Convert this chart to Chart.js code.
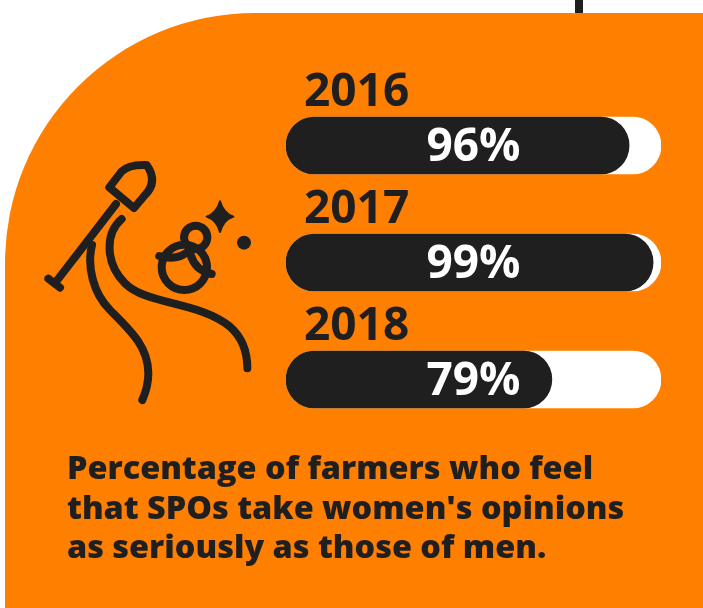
<!DOCTYPE html>
<html>
<head>
<meta charset="utf-8">
<script src="https://cdn.jsdelivr.net/npm/chart.js@4/dist/chart.umd.min.js"></script>
<style>
  html, body { margin: 0; padding: 0; background: #fff; overflow: hidden; }
  #page { position: relative; width: 703px; height: 608px; overflow: hidden; }
  #stem { position: absolute; left: 575px; top: 0; width: 8px; height: 14px; background: #1f1f1f; }
  #panel { position: absolute; left: 5px; top: 13px; width: 760px; height: 660px; background: #ff7f00; border-top-left-radius: 250px; }
  #chart-box { position: absolute; left: 0; top: 0; width: 703px; height: 608px; }
  #icon { position: absolute; left: 30px; top: 150px; }
  #caption {
    position: absolute; left: 67px; top: 447px; margin: 0;
    font: 800 32.4px/39.5px "Open Sans", sans-serif; color: #1f1f1f; white-space: nowrap;
  }
</style>
</head>
<body>
<div id="page">
  <div id="stem"></div>
  <div id="panel"></div>
  <svg id="icon" width="240" height="260" viewBox="0 0 720 780" fill="none" stroke="#1f1f1f" stroke-width="24" stroke-linecap="round" stroke-linejoin="round">
    <path d="M55,386 L90,413"/>
    <path d="M76,398 L258,162"/>
    <path d="M238,112 L275,64 Q298,42 350,45 Q385,95 345,135 L312,174 Z"/>
    <path d="M186,285 C170,350 190,430 240,480 C300,540 355,590 355,670 Q355,710 337,750"/>
    <path d="M275,207 C225,250 225,340 285,400 C350,465 510,455 600,530 C640,565 652,610 652,655"/>
    <circle cx="497" cy="262" r="35"/>
    <circle cx="463" cy="352" r="68"/>
    <path d="M388,318 Q445,335 482,298"/>
    <path d="M480,305 Q490,360 545,372"/>
    <path d="M570,154 Q580,190 610,200 Q580,210 570,246 Q560,210 530,200 Q560,190 570,154 Z" fill="#1f1f1f" stroke-width="6"/>
    <circle cx="642" cy="278" r="21" fill="#1f1f1f" stroke="none"/>
  </svg>
  <div id="chart-box"><canvas id="farmers-chart"></canvas></div>
  <p id="caption">Percentage of farmers who feel<br>that SPOs take women's opinions<br>as seriously as those of men.</p>
</div>
<script>
// Survey years and the percentages printed on the bars.
const years = ['2016', '2017', '2018'];
const printedPercent = [96, 99, 79];
// The dark fills in the source are not drawn to the printed numbers, so the
// lengths are read off the picture as a share of the white track.
const fillLength = [91.5, 97.9, 70.9];
const trackLength = [100, 100, 100];

const DARK = '#1f1f1f';

// Writes the printed percentage in the middle of each white track.
const percentLabels = {
    id: 'percentLabels',
    afterDatasetsDraw: function(chart) {
        const ctx = chart.ctx;
        const xScale = chart.scales.x;
        const yScale = chart.scales.y;
        ctx.save();
        ctx.fillStyle = '#fff';
        ctx.font = '700 46px "Open Sans", sans-serif';
        ctx.textAlign = 'center';
        ctx.textBaseline = 'middle';
        printedPercent.forEach(function(value, i) {
            ctx.fillText(value + '%', xScale.getPixelForValue(50), yScale.getPixelForValue(i) + 2);
        });
        ctx.restore();
    }
};

new Chart(document.getElementById('farmers-chart'), {
    type: 'bar',
    data: {
        labels: years,
        datasets: [
            {
                label: 'Fill',
                data: fillLength,
                backgroundColor: DARK,
                barThickness: 57,
                borderRadius: 29,
                borderSkipped: false,
                order: 1,
            },
            {
                label: 'Track',
                data: trackLength,
                backgroundColor: '#fff',
                barThickness: 57,
                borderRadius: 29,
                borderSkipped: false,
                order: 2,
            }
        ]
    },
    options: {
        indexAxis: 'y',
        responsive: true,
        maintainAspectRatio: false,
        animation: false,
        // a mirrored y axis still reserves tick length + 2x padding (44px), so
        // the left padding leaves the plot area starting at x=286
        layout: { padding: { left: 242, right: 42, top: 87, bottom: 170 } },
        plugins: { legend: { display: false }, tooltip: { enabled: false } },
        datasets: { bar: { grouped: false } },
        scales: {
            x: { min: 0, max: 100, display: false },
            y: {
                grid: { display: false },
                border: { display: false },
                ticks: {
                    mirror: true,
                    padding: 18,
                    labelOffset: -53,
                    color: DARK,
                    font: { family: '"Open Sans", sans-serif', size: 46, weight: '700' },
                }
            }
        }
    },
    plugins: [percentLabels]
});
</script>
</body>
</html>
